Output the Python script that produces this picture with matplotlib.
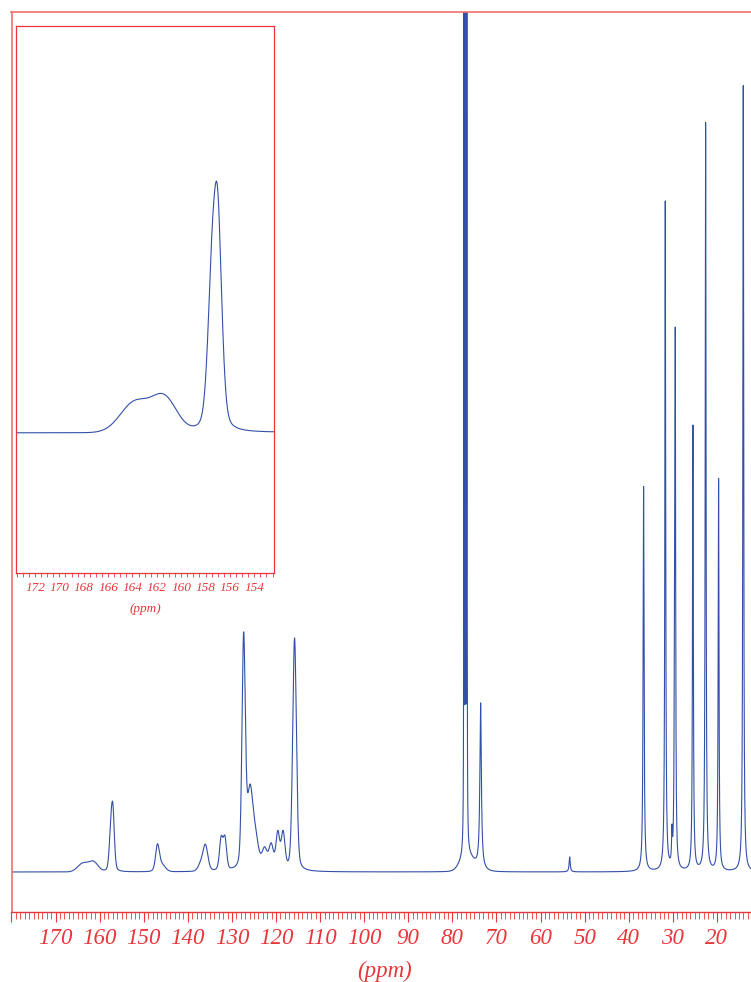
"""
plot.py
13C NMR spectrum (CDCl3) with an expanded inset of the 152-174 ppm region.
The trace is rebuilt from peak tables read off the reference picture.
"""

import numpy as np
import matplotlib
matplotlib.use("Agg")
import matplotlib.pyplot as plt
from matplotlib.ticker import FixedLocator, MultipleLocator

# ---- sharp lines (Lorentzian): solvent + aliphatic -> ppm, height, fwhm (ppm)
sharp_ppm = [77.36, 77.04, 76.72, 73.6, 53.4,
             36.64, 31.72, 30.2, 29.62, 29.45, 25.45, 22.57, 19.63, 14.03]
sharp_height = [3000, 3000, 3000, 165, 15,
                385, 669, 30, 180, 495, 445, 748, 392, 786]
sharp_fwhm = [0.05, 0.05, 0.05, 0.4, 0.3,
              0.25, 0.22, 0.2, 0.2, 0.2, 0.22, 0.22, 0.22, 0.22]

# ---- aromatic lines (pseudo-Voigt, 30 % Lorentzian) -> ppm, height, fwhm
arom_ppm = [157.0, 157.5, 146.9, 136.0, 132.45, 131.6, 127.35, 125.9, 124.6,
            122.6, 121.1, 119.6, 118.4, 115.8]
arom_height = [56, 35, 24, 25, 31, 31, 228, 76, 26,
               20, 24, 36, 36, 233]
arom_fwhm = [0.8, 0.8, 1.0, 1.3, 0.9, 0.9, 0.9, 1.6, 1.6,
             1.4, 1.2, 1.0, 1.0, 1.0]

# ---- broad humps (Gaussian) -> ppm, height, fwhm
broad_ppm = [163.8, 161.4, 146.0, 137.0, 77.0, 75.5]
broad_height = [8.5, 9.5, 7, 7, 12, 6]
broad_fwhm = [2.8, 2.4, 2.0, 1.5, 3.0, 4.0]

main_major = list(range(20, 181, 10))
inset_major = list(range(154, 173, 2))

RED = "#e8363a"
FRAME = "#f07070"
BLUE = "#3350a8"


def lorentz(x, c, w):
    return 1.0 / (1.0 + ((x - c) / (w / 2.0)) ** 2)


def gauss(x, c, w):
    return np.exp(-4.0 * np.log(2.0) * ((x - c) / w) ** 2)


def build_trace(ppm):
    y = np.zeros_like(ppm)
    for c, h, w in zip(sharp_ppm, sharp_height, sharp_fwhm):
        y += h * lorentz(ppm, c, w)
    for c, h, w in zip(arom_ppm, arom_height, arom_fwhm):
        y += h * (0.3 * lorentz(ppm, c, w) + 0.7 * gauss(ppm, c, w))
    for c, h, w in zip(broad_ppm, broad_height, broad_fwhm):
        y += h * gauss(ppm, c, w)
    return y


ppm = np.arange(180.0, 12.0, -0.005)
trace = build_trace(ppm)

W, H = 751, 982
fig = plt.figure(figsize=(W / 100, H / 100), dpi=100)

serif = {"family": "Liberation Serif", "style": "italic", "color": RED}

# ---- main spectrum
ax = fig.add_axes([11.5 / W, 1 - 912 / H, 1 - 11.5 / W, 900 / H])
ax.plot(ppm, trace, color=BLUE, lw=0.8)
ax.set_xlim(180, 180 - (W - 11.5) / 4.409)
ax.set_ylim(-40, 860)
ax.set_yticks([])
for s in ["left", "top"]:
    ax.spines[s].set_color(FRAME)
    ax.spines[s].set_linewidth(1.2)
ax.spines["bottom"].set_color(RED)
ax.spines["bottom"].set_linewidth(1.0)
ax.spines["right"].set_visible(False)
ax.xaxis.set_major_locator(FixedLocator(main_major))
ax.xaxis.set_minor_locator(MultipleLocator(1))
ax.set_xticklabels(["" if v == 180 else str(v) for v in main_major])
ax.tick_params(axis="x", which="major", direction="out", length=7.2, width=0.8,
               color=RED, pad=4, labelsize=16.5, labelcolor=RED)
ax.tick_params(axis="x", which="minor", direction="out", length=5, width=0.6, color=RED)
for lab in ax.get_xticklabels():
    lab.set_fontfamily("Liberation Serif")
    lab.set_fontstyle("italic")
fig.text(385 / W, 1 - 971 / H, "(ppm)", ha="center", va="center", fontsize=16.5, **serif)

# ---- inset: 152-174 ppm expanded
k = 71 / 252.0
axi = fig.add_axes([16 / W, 1 - 573 / H, 258 / W, 547 / H])
axi.plot(ppm, trace, color=BLUE, lw=0.8)
axi.set_xlim(172 + 19 / 12.18, 154 - (274 - 254.3) / 12.18)
axi.set_ylim(-140 * k, 407 * k)
axi.set_yticks([])
for s in axi.spines.values():
    s.set_color(RED)
    s.set_linewidth(0.9)
axi.xaxis.set_major_locator(FixedLocator(inset_major))
axi.xaxis.set_minor_locator(MultipleLocator(0.5))
axi.set_xticklabels([str(v) for v in inset_major])
axi.tick_params(axis="x", which="both", direction="out", length=3.2, width=0.6,
                color=RED, pad=3, labelsize=9.5, labelcolor=RED)
for lab in axi.get_xticklabels():
    lab.set_fontfamily("Liberation Serif")
    lab.set_fontstyle("italic")
fig.text(145 / W, 1 - 609 / H, "(ppm)", ha="center", va="center", fontsize=9.5, **serif)

fig.savefig("out.png", dpi=100)
